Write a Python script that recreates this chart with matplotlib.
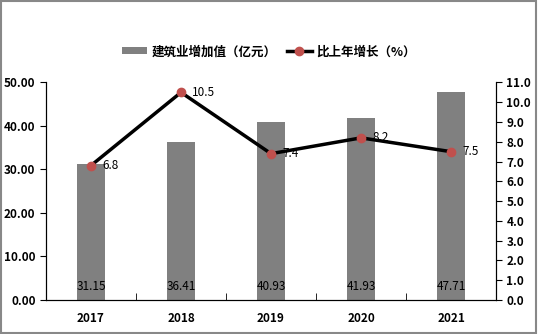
import numpy as np
import matplotlib.pyplot as plt
from matplotlib.patches import Rectangle

plt.rcParams['font.family'] = ['Noto Sans CJK SC', 'DejaVu Sans']

years = ['2017', '2018', '2019', '2020', '2021']
value_added = [31.15, 36.41, 40.93, 41.93, 47.71]
growth = [6.8, 10.5, 7.4, 8.2, 7.5]

fig = plt.figure(figsize=(5.38, 3.34), dpi=100)
ax = fig.add_axes([0.0855, 0.102, 0.8365, 0.651])
ax2 = ax.twinx()

x = np.arange(len(years))
ax.bar(x, value_added, width=0.31, color='#808080', label='建筑业增加值（亿元）', zorder=1)
for xi, v in zip(x, value_added):
    ax.text(xi, 3.2, f'{v:.2f}', ha='center', va='center', fontsize=8.5, color='black')

ax2.plot(x, growth, color='black', lw=2.5, marker='o', markersize=6,
         markerfacecolor='#C0504D', markeredgecolor='#C0504D', label='比上年增长（%）', zorder=3)
for xi, g in zip(x, growth):
    ax2.annotate(f'{g:.1f}', (xi, g), xytext=(8, 0), textcoords='offset points',
                 ha='left', va='center', fontsize=8.5, color='black')

ax.set_xlim(-0.5, len(years) - 0.5)
ax.set_ylim(0, 50)
ax2.set_ylim(0, 11)
ax.set_yticks(np.arange(0, 51, 10))
ax.set_yticklabels([f'{v:.2f}' for v in np.arange(0, 51, 10)])
ax2.set_yticks(np.arange(0, 11.1, 1))
ax2.set_yticklabels([f'{v:.1f}' for v in np.arange(0, 11.1, 1)])

ax.set_xticks(x)
ax.set_xticklabels(years)
ax.set_xticks(np.arange(0.5, len(years) - 1, 1), minor=True)
ax.tick_params(axis='x', which='major', length=0, pad=9)
ax.tick_params(axis='x', which='minor', direction='in', length=5)
ax.tick_params(axis='y', length=4)
ax2.tick_params(axis='y', length=4)

for a in (ax, ax2):
    a.spines['top'].set_visible(False)
    for lab in a.get_xticklabels() + a.get_yticklabels():
        lab.set_fontweight('bold')
        lab.set_fontsize(8.5)

h1, l1 = ax.get_legend_handles_labels()
h2, l2 = ax2.get_legend_handles_labels()
fig.legend(h1 + h2, l1 + l2, loc='center', bbox_to_anchor=(0.5, 0.845), ncol=2,
           frameon=False, handlelength=2.0, handleheight=0.5, columnspacing=0.8,
           handletextpad=0.4, prop={'weight': 'bold', 'size': 9})

fig.patches.append(Rectangle((0.002, 0.003), 0.995, 0.994, transform=fig.transFigure,
                             fill=False, edgecolor='#888888', lw=1.5))

fig.savefig('out.png', dpi=100)
